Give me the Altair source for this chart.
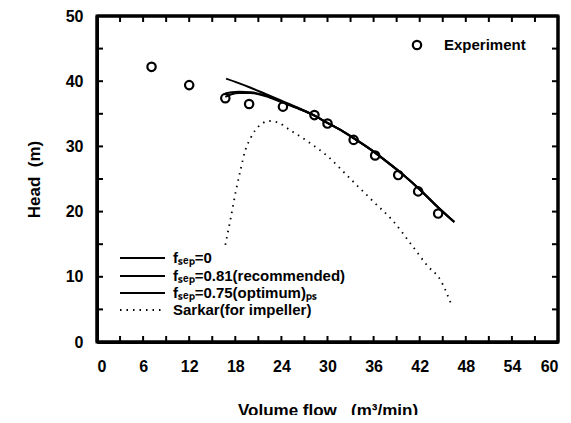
import altair as alt
import pandas as pd

# Experiment points
exp_flow = [7.1, 12.0, 16.7, 19.8, 24.2, 28.3, 30.0, 33.4, 36.2, 39.2, 41.8, 44.4]
exp_head = [42.2, 39.4, 37.4, 36.5, 36.1, 34.8, 33.5, 31.0, 28.6, 25.6, 23.1, 19.7]

# Model curves
tail_flow = [30, 32, 34, 36, 38, 40, 42, 44, 46.5]
tail_head = [33.6, 32.3, 30.8, 29.2, 27.4, 25.5, 23.4, 21.1, 18.4]

f0_flow = [16.8, 18, 20, 22, 24, 26, 28] + tail_flow
f0_head = [40.4, 39.9, 39.0, 38.0, 37.0, 36.0, 34.9] + tail_head

f081_flow = [16.7, 17.5, 18.5, 20, 22, 24, 26, 28] + tail_flow
f081_head = [37.6, 38.0, 38.2, 38.2, 37.7, 36.8, 35.9, 34.9] + tail_head

f075_flow = [16.7, 17.5, 18.5, 20, 22, 24, 26, 28] + tail_flow
f075_head = [38.1, 38.3, 38.4, 38.3, 37.8, 36.9, 35.9, 34.9] + tail_head

sarkar_flow = [16.7, 17.4, 18.1, 18.7, 19.3, 20.0, 20.6, 21.5, 22.3, 23.5, 25.0, 27.5,
               30.0, 33.0, 36.0, 38.5, 41.0, 43.0, 44.7, 46.2]
sarkar_head = [14.9, 19.0, 23.3, 26.5, 29.4, 31.3, 32.5, 33.5, 33.9, 33.7, 32.6, 30.7,
               28.5, 25.0, 21.5, 18.6, 14.8, 11.7, 9.5, 5.5]

x_ticks = list(range(0, 61, 3))
y_ticks = list(range(0, 51, 5))
x_range = [0, 60]
y_range = [0, 50]

legend_labels = ["fₛₑₚ=0", "fₛₑₚ=0.81(recommended)", "fₛₑₚ=0.75(optimum)ₚₛ", "Sarkar(for impeller)"]

FONT = "Liberation Sans"
NBSP = "\u00a0"

W, H = 461, 326
TICK = 6

xscale = alt.Scale(domain=x_range, nice=False, zero=False)
yscale = alt.Scale(domain=y_range, nice=False, zero=False)

axis_common = dict(domain=True, domainColor="black", domainWidth=3, ticks=False, grid=False,
                   labelFont=FONT, labelFontWeight="bold", labelFontSize=16,
                   labelColor="black", titleFont=FONT, titleFontWeight="bold",
                   titleFontSize=17, titleColor="black")

x_bottom = alt.Axis(orient="bottom", values=x_ticks,
                    labelExpr="datum.value % 6 == 0 ? datum.label : ''",
                    labelPadding=16, title=f"Volume flow{NBSP}{NBSP}{NBSP}(m³/min)",
                    titlePadding=28, **axis_common)
y_left = alt.Axis(orient="left", values=y_ticks,
                  labelExpr="datum.value % 10 == 0 ? datum.label : ''",
                  labelPadding=14, title=f"Head{NBSP}{NBSP}(m)", titlePadding=22,
                  **axis_common)

# Frame drawn through the scales (data-space corners of the plot)
frame_df = pd.DataFrame({"x0": [x_range[0]], "x1": [x_range[1]],
                         "y0": [y_range[0]], "y1": [y_range[1]]})
frame = alt.Chart(frame_df).mark_rect(
    fill="transparent", stroke="black", strokeWidth=3, opacity=1, strokeOpacity=1).encode(
    x=alt.X("x0:Q", scale=xscale, axis=x_bottom),
    x2="x1:Q",
    y=alt.Y("y0:Q", scale=yscale, axis=y_left),
    y2="y1:Q",
)

edge_v = alt.Chart(pd.DataFrame({"v": x_range})).mark_rule(color="black", strokeWidth=3).encode(
    x=alt.X("v:Q", scale=xscale), y=alt.datum(y_range[0]), y2=alt.datum(y_range[1]))
edge_h = alt.Chart(pd.DataFrame({"v": y_range})).mark_rule(color="black", strokeWidth=3).encode(
    y=alt.Y("v:Q", scale=yscale), x=alt.datum(x_range[0]), x2=alt.datum(x_range[1]))

points = alt.Chart(pd.DataFrame({"flow": exp_flow, "head": exp_head})).mark_point(
    shape="circle", filled=False, color="black", opacity=1, strokeWidth=2.2, size=70).encode(
    x=alt.X("flow:Q", scale=xscale),
    y=alt.Y("head:Q", scale=yscale),
)


def solid_curve(fl, hd):
    return alt.Chart(pd.DataFrame({"flow": fl, "head": hd})).mark_line(
        color="black", strokeWidth=2, interpolate="monotone").encode(
        x=alt.X("flow:Q", scale=xscale), y=alt.Y("head:Q", scale=yscale))


curves = [solid_curve(f0_flow, f0_head), solid_curve(f081_flow, f081_head),
          solid_curve(f075_flow, f075_head)]

sarkar = alt.Chart(pd.DataFrame({"flow": sarkar_flow, "head": sarkar_head})).mark_line(
    color="black", strokeWidth=1.8, strokeDash=[1.5, 5], interpolate="monotone").encode(
    x=alt.X("flow:Q", scale=xscale), y=alt.Y("head:Q", scale=yscale))

# Legend (lower-left), placed in pixel offsets of the plot area
LEG_Y = [242, 260, 277, 294]
leg_layers = []
for i, lab in enumerate(legend_labels):
    sub = pd.DataFrame({"label": [lab]})
    if i < 3:
        ln = alt.Chart(sub).mark_rule(color="black", strokeWidth=2)
    else:
        ln = alt.Chart(sub).mark_rule(color="black", strokeWidth=1.8, strokeDash=[1.5, 5])
    leg_layers.append(ln.encode(x=alt.value(23), x2=alt.value(68), y=alt.value(LEG_Y[i])))
    leg_layers.append(alt.Chart(sub).mark_text(
        align="left", baseline="middle", font=FONT, fontWeight="bold", fontSize=15,
        color="black").encode(x=alt.value(76), y=alt.value(LEG_Y[i]), text="label:N"))

exp_leg_df = pd.DataFrame({"label": ["Experiment"]})
exp_leg_pt = alt.Chart(exp_leg_df).mark_point(shape="circle", filled=False, color="black",
                                              opacity=1, strokeWidth=2.2, size=70).encode(
    x=alt.value(320), y=alt.value(29))
exp_leg_txt = alt.Chart(exp_leg_df).mark_text(align="left", baseline="middle", font=FONT,
                                              fontWeight="bold", fontSize=15,
                                              color="black").encode(
    x=alt.value(347), y=alt.value(29), text="label:N")

# Inward tick marks on all four sides, placed through the scales
xt_df = pd.DataFrame({"v": x_ticks})
yt_df = pd.DataFrame({"v": y_ticks})
xt_bot = alt.Chart(xt_df).mark_rule(color="black", strokeWidth=2).encode(
    x=alt.X("v:Q", scale=xscale), y=alt.value(H), y2=alt.value(H - TICK))
xt_top = alt.Chart(xt_df).mark_rule(color="black", strokeWidth=2).encode(
    x=alt.X("v:Q", scale=xscale), y=alt.value(0), y2=alt.value(TICK))
yt_left = alt.Chart(yt_df).mark_rule(color="black", strokeWidth=2).encode(
    y=alt.Y("v:Q", scale=yscale), x=alt.value(0), x2=alt.value(TICK))
yt_right = alt.Chart(yt_df).mark_rule(color="black", strokeWidth=2).encode(
    y=alt.Y("v:Q", scale=yscale), x=alt.value(W), x2=alt.value(W - TICK))

chart = alt.layer(frame, points, *curves, sarkar, *leg_layers, exp_leg_pt, exp_leg_txt,
                  xt_bot, xt_top, yt_left, yt_right, edge_v, edge_h).properties(
    width=W, height=H,
    autosize=alt.AutoSizeParams(type="none"),
    padding={"left": 89, "top": 8, "right": 5, "bottom": 73},
).configure_view(stroke="black", strokeWidth=3).configure(background="white")

chart.save("out.html", embed_options={"renderer": "svg", "actions": False})
